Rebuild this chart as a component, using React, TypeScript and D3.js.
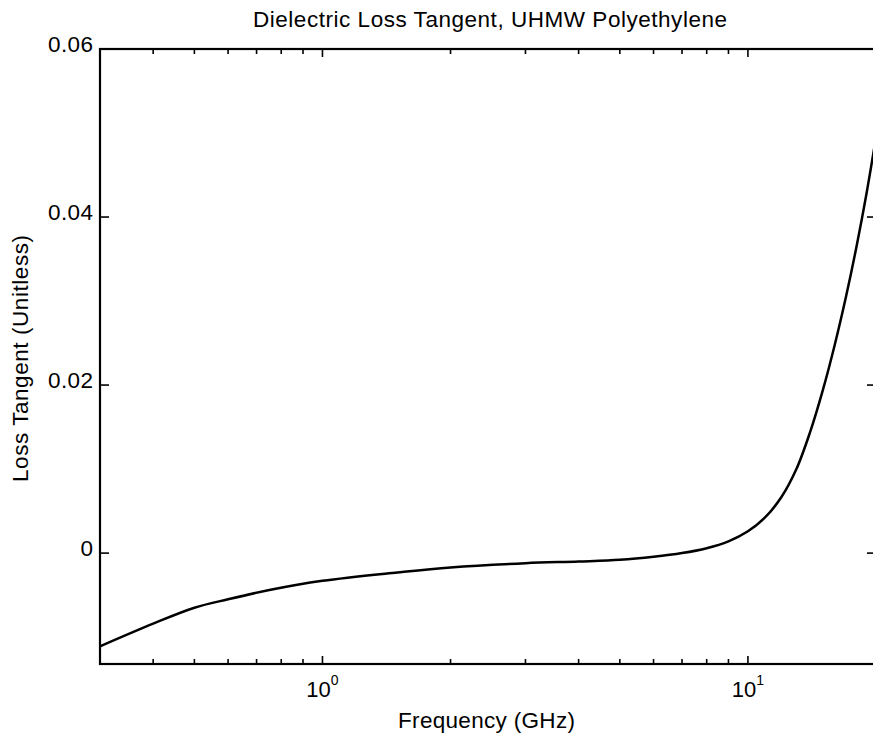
import React from "react";
import * as d3 from "d3";

const freqGHz = [0.3, 0.4, 0.5, 0.6, 0.75, 1.0, 1.5, 2.0, 3.0, 4.0, 5.0, 6.0, 7.0, 8.0, 9.0, 10.0, 11.0, 12.0, 13.0, 14.0, 15.0, 16.0, 17.0, 18.0, 19.0, 20.0];
const lossTangent = [-0.0111, -0.0084, -0.0065, -0.0055, -0.0044, -0.0033, -0.0023, -0.0017, -0.0012, -0.0010, -0.0008, -0.00044, 0.0000, 0.00058, 0.0014, 0.0026, 0.0043, 0.0067, 0.0100, 0.0144, 0.0194, 0.0248, 0.0305, 0.0365, 0.0428, 0.0495];
const yTickValues = [0, 0.02, 0.04, 0.06];
const yTickLabels = ["0", "0.02", "0.04", "0.06"];
const xMajorTicks = [1, 10];
const xMajorExponents = ["0", "1"];

const title = "Dielectric Loss Tangent, UHMW Polyethylene";
const xTitle = "Frequency (GHz)";
const yTitle = "Loss Tangent (Unitless)";

const W = 873;
const H = 738;
const left = 100;
const right = 876;
const top = 49;
const bottom = 664;

export default function App() {
  const x = d3.scaleLog().domain([0.3, 20]).range([left, right]);
  const y = d3.scaleLinear().domain([-0.0132, 0.06]).range([bottom, top]);
  const pts = freqGHz.map((f, i) => [f, lossTangent[i]] as [number, number]);
  const line = d3
    .line<[number, number]>()
    .x((d) => x(d[0]))
    .y((d) => y(d[1]))
    .curve(d3.curveCatmullRom.alpha(0.5));
  const xTicks = x.ticks().filter((t) => t > 0.3 && t < 20);
  const isMajor = (t: number) => Math.abs(Math.log10(t) - Math.round(Math.log10(t))) < 1e-9;
  const font = "'Liberation Sans', Arial, Helvetica, sans-serif";

  return (
    <svg
      width={W}
      height={H}
      viewBox={`0 0 ${W} ${H}`}
      style={{ position: "absolute", left: 0, top: 0, background: "#fff" }}
      fontFamily={font}
    >
      <rect x={0} y={0} width={W} height={H} fill="#fff" />
      <defs>
        <clipPath id="plotclip">
          <rect x={left} y={top} width={right - left} height={bottom - top} />
        </clipPath>
      </defs>
      <text x={490} y={27} textAnchor="middle" fontSize={22.5} textLength={474} lengthAdjust="spacing" fill="#000">
        {title}
      </text>
      <rect x={left} y={top} width={right - left} height={bottom - top} fill="none" stroke="#000" strokeWidth={2.2} />
      {xTicks.map((t, i) => {
        const len = isMajor(t) ? 8 : 5;
        return (
          <g key={"xt" + i}>
            <line x1={x(t)} x2={x(t)} y1={bottom} y2={bottom - len} stroke="#000" strokeWidth={1.6} />
            <line x1={x(t)} x2={x(t)} y1={top} y2={top + len} stroke="#000" strokeWidth={1.6} />
          </g>
        );
      })}
      {xMajorTicks.map((t, i) => (
        <text key={"xl" + i} x={x(t)} y={697} textAnchor="middle" fontSize={22} fill="#000">
          10
          <tspan dy={-12} fontSize={14}>
            {xMajorExponents[i]}
          </tspan>
        </text>
      ))}
      {yTickValues.map((v, i) => (
        <g key={"yt" + i}>
          <line x1={left} x2={left + 9} y1={y(v)} y2={y(v)} stroke="#000" strokeWidth={1.6} />
          <line x1={right} x2={right - 9} y1={y(v)} y2={y(v)} stroke="#000" strokeWidth={1.6} />
          <text
            x={93}
            y={y(v) + 3}
            textAnchor="end"
            fontSize={22.5}
            fill="#000"
            textLength={yTickLabels[i].length > 1 ? 45 : undefined}
            lengthAdjust="spacing"
          >
            {yTickLabels[i]}
          </text>
        </g>
      ))}
      <path d={line(pts) || ""} fill="none" stroke="#000" strokeWidth={2.5} clipPath="url(#plotclip)" />
      <text x={486.5} y={728} textAnchor="middle" fontSize={22.5} textLength={177} lengthAdjust="spacing" fill="#000">
        {xTitle}
      </text>
      <text
        transform="translate(28,358.5) rotate(-90)"
        textAnchor="middle"
        fontSize={22.5}
        textLength={247}
        lengthAdjust="spacing"
        fill="#000"
      >
        {yTitle}
      </text>
    </svg>
  );
}
